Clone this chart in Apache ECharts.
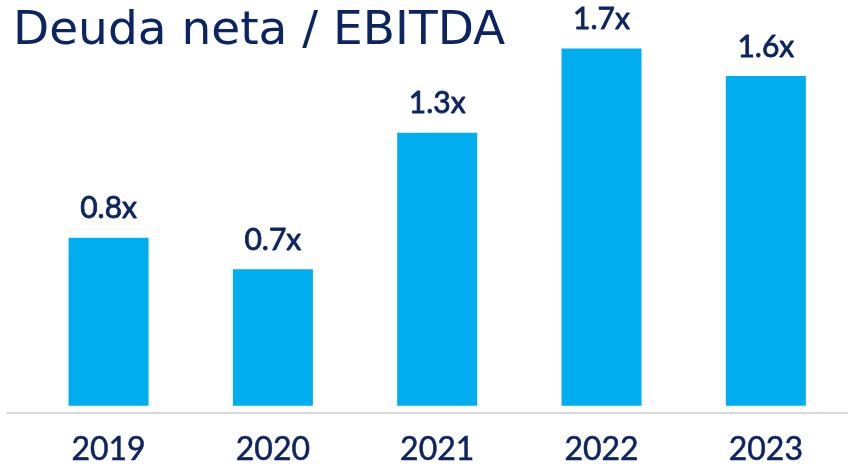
<!DOCTYPE html>
<html>
<head>
<meta charset="utf-8">
<script src="https://cdn.jsdelivr.net/npm/echarts@6/dist/echarts.min.js"></script>
<style>
html,body{margin:0;padding:0;background:#fff;}
#chart{width:848px;height:466px;}
</style>
</head>
<body>
<div id="chart"></div>
<script>
const categories = ['2019', '2020', '2021', '2022', '2023'];
const ratioValues = [0.8, 0.65, 1.3, 1.7, 1.57];
const ratioLabels = ['0.8x', '0.7x', '1.3x', '1.7x', '1.6x'];
const titleText = 'Deuda neta / EBITDA';

const navy = '#0C2461';
const chart = echarts.init(document.getElementById('chart'), null, {renderer: 'canvas'});
chart.setOption({
  animation: false,
  backgroundColor: '#ffffff',
  title: {
    text: titleText,
    left: 8,
    top: 3,
    textStyle: {fontFamily: 'DejaVu Sans', fontWeight: 'normal', fontSize: 47, color: '#0B2463'}
  },
  grid: [
    {left: 26.4, width: 829, top: 27.6, bottom: 54.3},
    {left: 7, right: 0, top: 27.6, bottom: 53.3}
  ],
  xAxis: [
    {
      type: 'category', data: categories, gridIndex: 0,
      axisLine: {show: false}, axisTick: {show: false},
      axisLabel: {margin: 28, fontFamily: 'Lato', fontWeight: 'normal', fontSize: 32, color: navy,
        textBorderColor: navy, textBorderWidth: 0.5}
    },
    {
      type: 'value', gridIndex: 1, min: 0, max: 1,
      axisLine: {show: true, lineStyle: {color: '#d9d9d9', width: 2}},
      axisTick: {show: false}, axisLabel: {show: false}, splitLine: {show: false}
    }
  ],
  yAxis: [
    {type: 'value', gridIndex: 0, min: 0, max: 1.8, show: false, splitLine: {show: false}},
    {type: 'value', gridIndex: 1, min: 0, max: 1, show: false, splitLine: {show: false}}
  ],
  series: [{
    type: 'bar',
    xAxisIndex: 0, yAxisIndex: 0,
    data: ratioValues,
    barWidth: 80,
    itemStyle: {color: '#00AEEF'},
    label: {
      show: true, position: 'top', distance: 14,
      fontFamily: 'Lato', fontWeight: 'normal', fontSize: 30, color: navy,
      textBorderColor: navy, textBorderWidth: 0.8,
      formatter: p => ratioLabels[p.dataIndex]
    }
  }]
});
</script>
</body>
</html>
